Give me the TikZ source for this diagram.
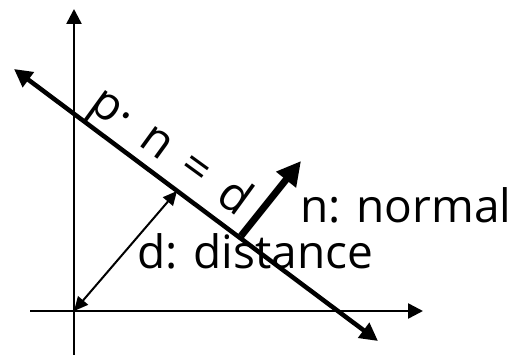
\documentclass[tikz,border=0pt]{standalone}
\usepackage{fontspec}
\setmainfont{Open Sans}
\usetikzlibrary{arrows.meta}
\begin{document}
\begin{tikzpicture}[x=1pt,y=-1pt,
  axis/.style={line width=2.5pt,-{Triangle[length=15pt,width=15pt]}},
  plane/.style={line width=4.5pt,{Triangle[length=18pt,width=18pt]}-{Triangle[length=18pt,width=18pt]}},
  dist/.style={line width=2pt,{Triangle[length=14pt,width=13pt]}-{Triangle[length=14pt,width=13pt]}},
  normalv/.style={line width=7pt,-{Triangle[length=24pt,width=24pt]}},
  lbl/.style={inner sep=0pt,font=\fontsize{46}{50}\selectfont},
  eqlbl/.style={inner sep=0pt,font=\fontsize{47}{50}\selectfont}]
\useasboundingbox (0,0) rectangle (510,355);
\coordinate (yb) at (74,355);
\coordinate (yt) at (74,9);
\coordinate (xl) at (30,311);
\coordinate (xr) at (423,311);
\coordinate (O) at (74,311);
\coordinate (L1) at (14,69);
\coordinate (L2) at (378,341);
\coordinate (F) at (177,191);
\coordinate (N0) at (241,236);
\coordinate (N1) at (301,161);
\draw[axis] (yb) -- (yt);
\draw[axis] (xl) -- (xr);
\draw[plane] (L1) -- (L2);
\draw[dist] (O) -- (F);
\draw[normalv] (N0) -- (N1);
\node[lbl,anchor=base west] (nn) at (300,222) {n: normal};
\node[lbl,anchor=base west] (dd) at (137,268) {d: distance};
\node[eqlbl,rotate=-36] (eq) at (170,153) {p·\hspace{0.42em}n\hspace{0.42em}=\hspace{0.42em}d};
\end{tikzpicture}
\end{document}
